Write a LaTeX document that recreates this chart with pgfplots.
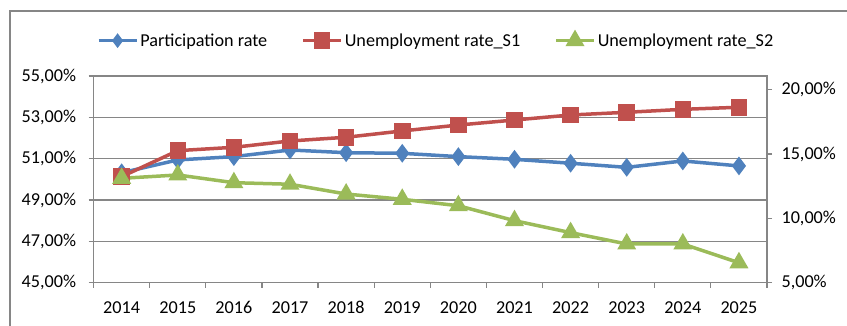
\documentclass[border=0pt]{standalone}
\usepackage{fontspec}
\setmainfont{Carlito}
\usepackage{pgfplots}
\pgfplotsset{compat=1.18}
\definecolor{cblue}{RGB}{79,129,189}
\definecolor{cred}{RGB}{192,80,77}
\definecolor{cgreen}{RGB}{155,187,89}
\definecolor{cgrid}{RGB}{134,134,134}
\newcommand{\chartfont}{\fontsize{18.25}{21}\selectfont}
\begin{document}
\begin{tikzpicture}[x=1bp,y=1bp]
\path[use as bounding box] (0,0) rectangle (847,325);
\draw[cgrid, line width=1.3bp] (10,-5) -- (10,314) -- (852,314);
\begin{axis}[
  at={(93.6bp,42.3bp)}, anchor=south west,
  scale only axis, width=673.4bp, height=206.7bp,
  xmin=-0.5, xmax=11.5, ymin=45, ymax=55,
  xtick={0,...,11},
  xticklabels={2014,2015,2016,2017,2018,2019,2020,2021,2022,2023,2024,2025},
  minor xtick={-0.5,0.5,...,11.5},
  major x tick style={draw=none},
  ytick={45,47,49,51,53,55},
  yticklabels={{45,00\%},{47,00\%},{49,00\%},{51,00\%},{53,00\%},{55,00\%}},
  tick align=outside, major tick length=5bp, minor tick length=5bp,
  tick style={cgrid, line width=1.2bp},
  ymajorgrids, grid style={cgrid, line width=1.2bp},
  axis line style={cgrid, line width=1.2bp},
  ticklabel style={font=\chartfont, text=black},
  xticklabel style={yshift=-10bp},
  yticklabel style={xshift=-9bp},
  xtick pos=bottom, ytick pos=left,
  clip=false,
]
\addplot[cblue, line width=3.5bp, mark=diamond*, mark size=6.5bp, mark options={solid, fill=cblue}]
  coordinates {(0,50.32) (1,50.94) (2,51.10) (3,51.42) (4,51.29) (5,51.26) (6,51.10) (7,50.97) (8,50.78) (9,50.58) (10,50.89) (11,50.65)};
\end{axis}
\begin{axis}[
  at={(93.6bp,42.3bp)}, anchor=south west,
  scale only axis, width=673.4bp, height=206.7bp,
  xmin=-0.5, xmax=11.5, ymin=5, ymax=21.06,
  axis x line=none, axis y line*=right,
  ytick={5,10,15,20},
  yticklabels={{5,00\%},{10,00\%},{15,00\%},{20,00\%}},
  tick align=outside, major tick length=5bp,
  tick style={cgrid, line width=1.2bp},
  axis line style={cgrid, line width=1.2bp, -},
  ticklabel style={font=\chartfont, text=black},
  yticklabel style={xshift=6bp},
  clip=false,
  legend columns=3,
  legend style={at={(0.5085,1.171)}, anchor=center, draw=none, fill=none,
    font=\chartfont, nodes={inner sep=2bp},
    /tikz/every even column/.append style={column sep=32bp}},
  legend image code/.code={\draw[mark repeat=2,mark phase=2] plot coordinates {(0bp,0bp) (19bp,0bp) (38bp,0bp)};},
]
\addlegendimage{cblue, line width=3.5bp, mark=diamond*, mark size=4.5bp, mark options={solid, fill=cblue}}
\addlegendentry{Participation rate}
\addplot[cred, line width=3.5bp, mark=square*, mark size=6.5bp, mark options={solid, fill=cred}]
  coordinates {(0,13.24) (1,15.26) (2,15.52) (3,16.01) (4,16.30) (5,16.79) (6,17.25) (7,17.64) (8,18.03) (9,18.24) (10,18.47) (11,18.63)};
\addlegendentry{Unemployment rate\_S1}
\addplot[cgreen, line width=3.5bp, mark=triangle*, mark size=7.5bp, mark options={solid, fill=cgreen}]
  coordinates {(0,13.11) (1,13.37) (2,12.77) (3,12.65) (4,11.89) (5,11.48) (6,10.98) (7,9.82) (8,8.89) (9,8.01) (10,8.01) (11,6.55)};
\addlegendentry{Unemployment rate\_S2}
\end{axis}
\end{tikzpicture}
\end{document}
